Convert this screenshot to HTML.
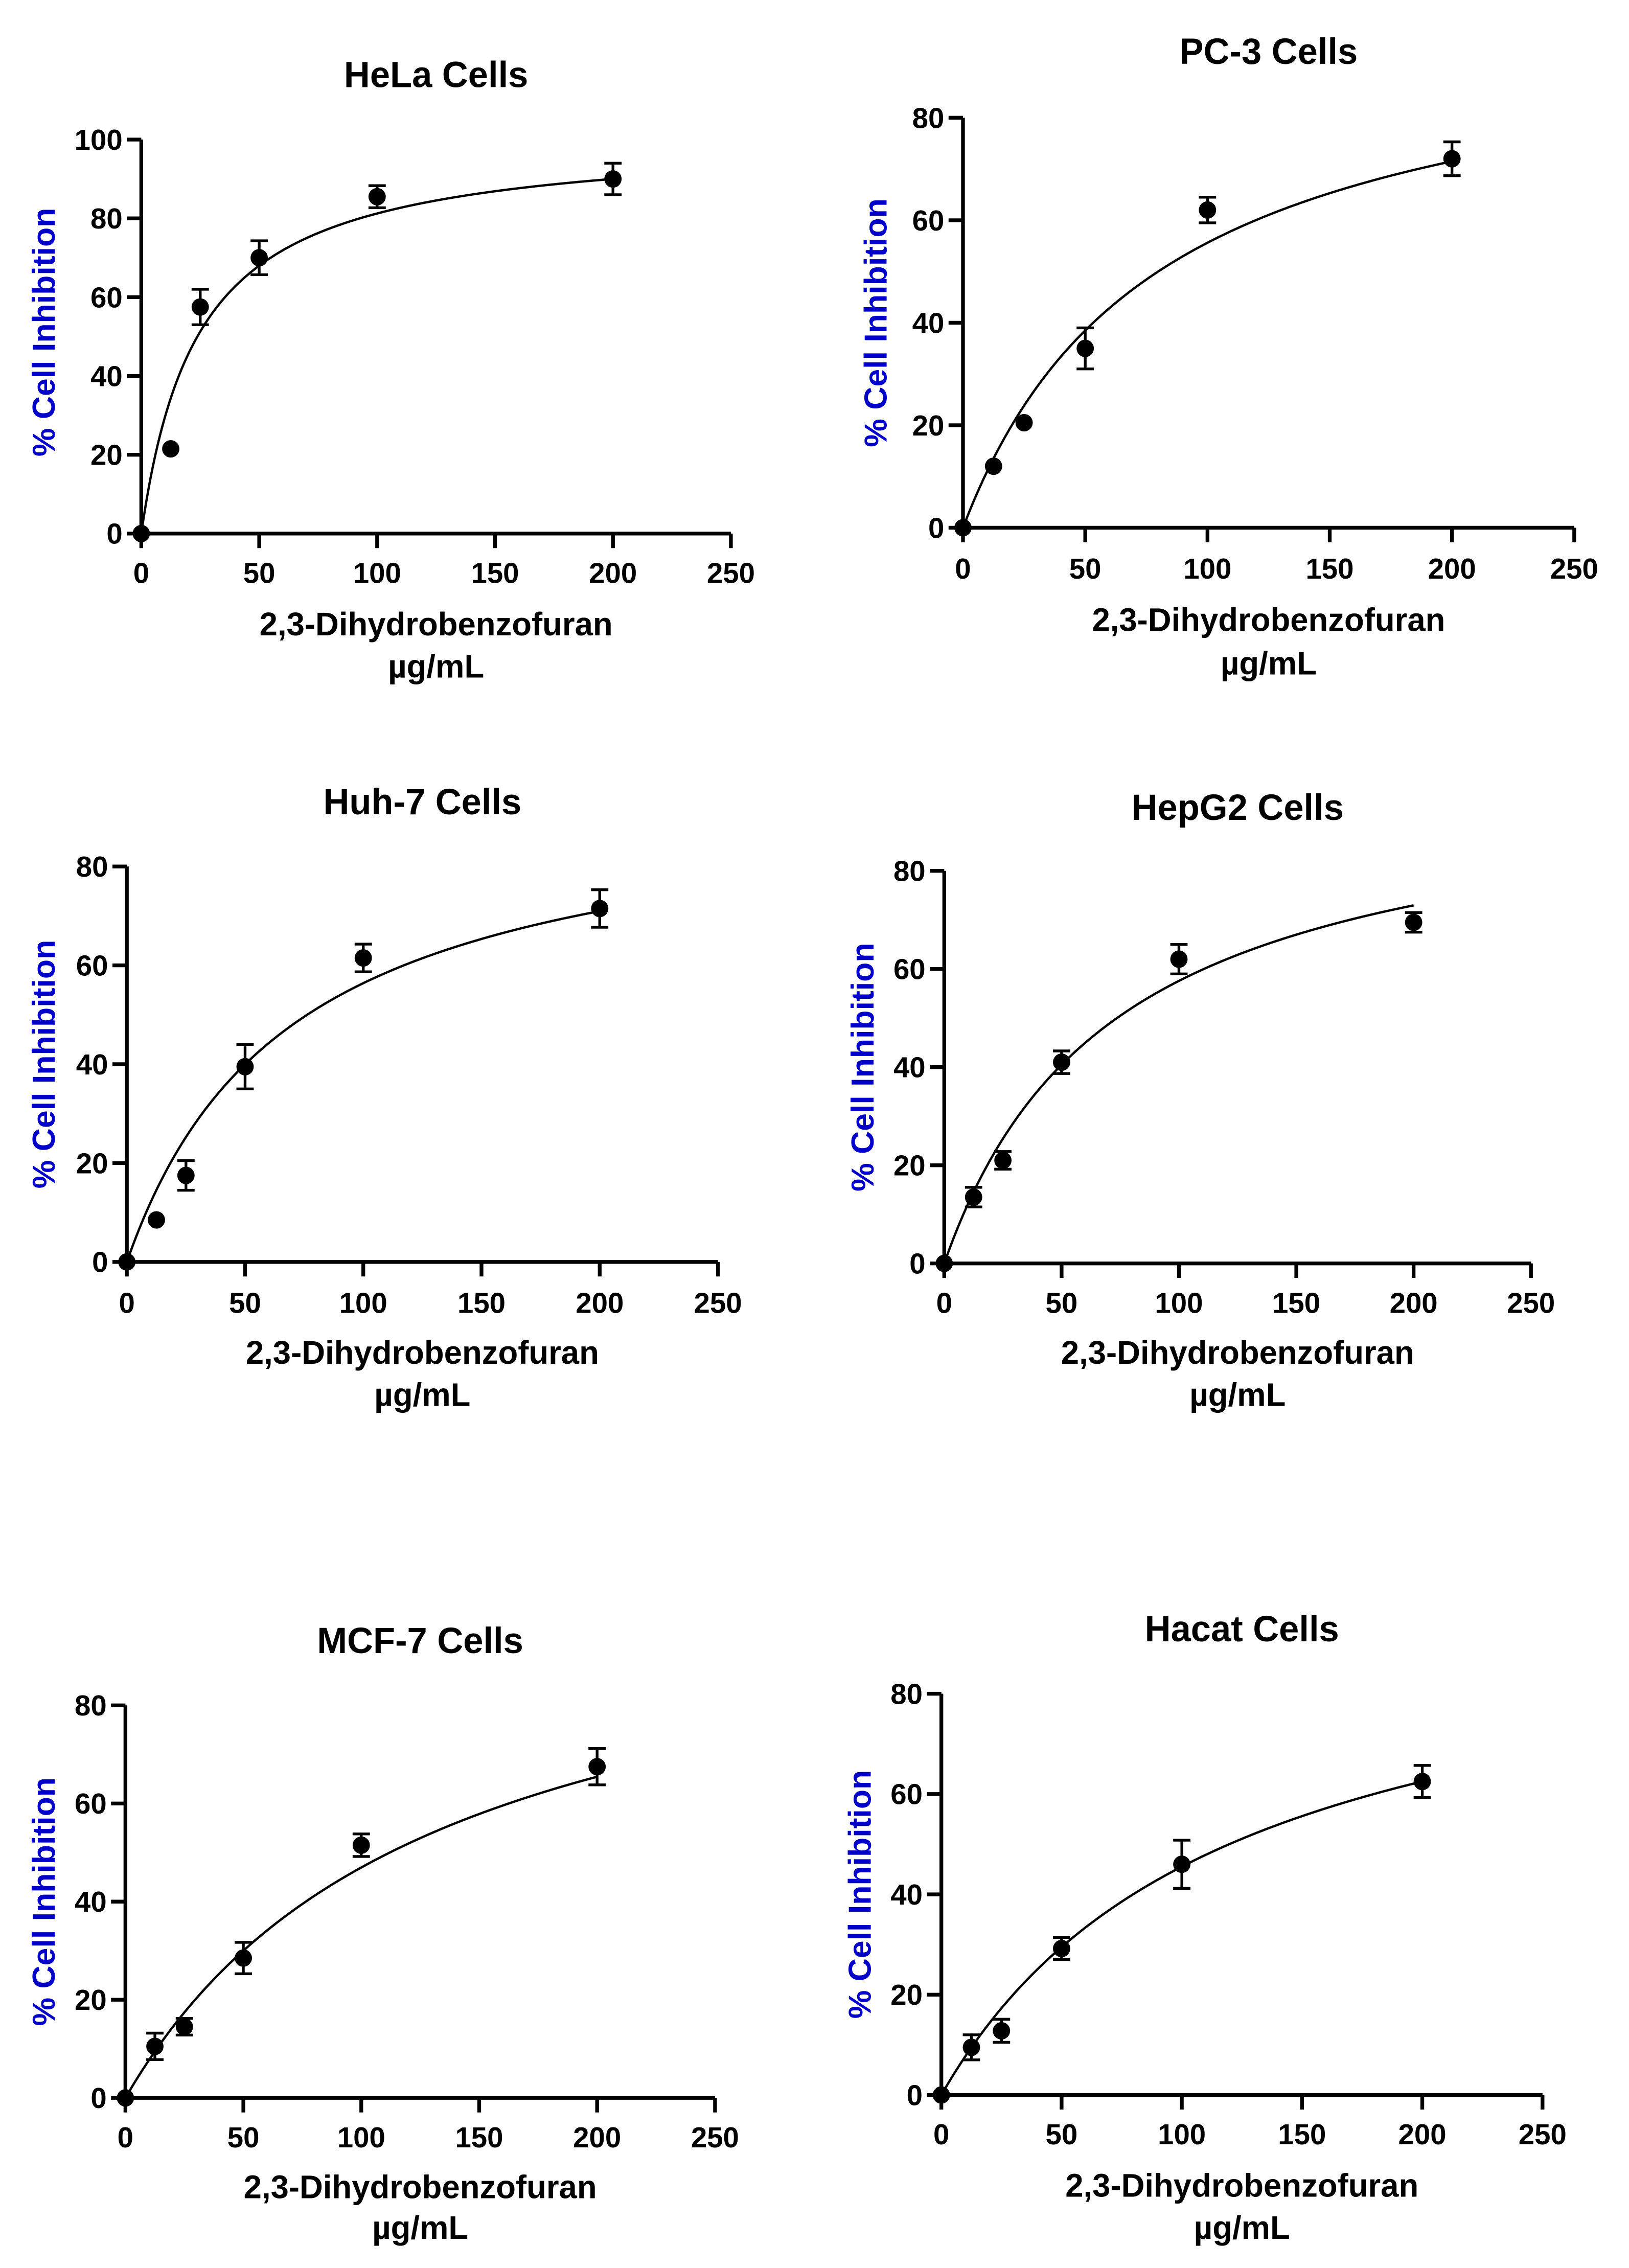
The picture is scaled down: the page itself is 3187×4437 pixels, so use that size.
<!DOCTYPE html>
<html><head><meta charset="utf-8"><style>
html,body{margin:0;padding:0;background:#fff;}
svg{display:block;}
text{font-family:"Liberation Sans",Arial,sans-serif;font-weight:bold;}
</style></head><body>
<svg id="fig" width="3187" height="4437" viewBox="0 0 1130 1560" preserveAspectRatio="none" xmlns="http://www.w3.org/2000/svg"></svg>
<script>
const xTicks=[0,50,100,150,200,250];
const doses=[0,12.5,25,50,100,200];
const helaVals=[0,21.5,57.5,70,85.5,90];
const helaErr=[0,0,4.5,4.3,2.8,4];
const pc3Vals=[0,12,20.5,35,62,72];
const pc3Err=[0,0,0,4,2.5,3.3];
const huhVals=[0,8.5,17.5,39.5,61.5,71.5];
const huhErr=[0,0,3,4.5,2.8,3.8];
const hepVals=[0,13.5,21,41,62,69.5];
const hepErr=[0,2,1.8,2.3,3,2];
const mcfVals=[0,10.5,14.5,28.5,51.5,67.5];
const mcfErr=[0,2.7,1.7,3.2,2.3,3.7];
const hacVals=[0,9.5,12.8,29.2,46,62.5];
const hacErr=[0,2.5,2.3,2.2,4.8,3.2];
const fitB=[100.9,100.1,95.7,99.6,108,99.7];
const fitK=[24.2,80,69.7,73,130,119];

const panels=[
 {name:'hela',title:'HeLa Cells',vals:helaVals,err:helaErr,ymax:100,yt:[0,20,40,60,80,100],x0:98,x1:507,y0:367,y1:96,ty:51,tk:394,a1:429,a2:458,lx:30},
 {name:'pc3',title:'PC-3 Cells',vals:pc3Vals,err:pc3Err,ymax:80,yt:[0,20,40,60,80],x0:668,x1:1092,y0:363,y1:81,ty:35,tk:391,a1:426,a2:456,lx:607},
 {name:'huh7',title:'Huh-7 Cells',vals:huhVals,err:huhErr,ymax:80,yt:[0,20,40,60,80],x0:88,x1:498,y0:868,y1:596,ty:551,tk:896,a1:930,a2:959,lx:30},
 {name:'hepg2',title:'HepG2 Cells',vals:hepVals,err:hepErr,ymax:80,yt:[0,20,40,60,80],x0:655,x1:1062,y0:869,y1:599,ty:555,tk:896,a1:930,a2:959,lx:598},
 {name:'mcf7',title:'MCF-7 Cells',vals:mcfVals,err:mcfErr,ymax:80,yt:[0,20,40,60,80],x0:87,x1:496,y0:1443,y1:1173,ty:1128,tk:1470,a1:1504,a2:1532,lx:30},
 {name:'hacat',title:'Hacat Cells',vals:hacVals,err:hacErr,ymax:80,yt:[0,20,40,60,80],x0:653,x1:1070,y0:1441,y1:1165,ty:1120,tk:1468,a1:1503,a2:1532,lx:596}
];
const NS='http://www.w3.org/2000/svg';
const svg=document.getElementById('fig');
function mk(tag,attrs,parent){const e=document.createElementNS(NS,tag);for(const k in attrs)e.setAttribute(k,attrs[k]);parent.appendChild(e);return e;}
panels.forEach((p,pi)=>{
 const g=mk('g',{},svg);
 
 
 const sx=v=>p.x0+(p.x1-p.x0)*v/250;
 const sy=v=>p.y0-(p.y0-p.y1)*v/p.ymax;
 const t=mk('text',{x:(p.x0+p.x1)/2,y:p.ty+9,'text-anchor':'middle','font-size':25,fill:'#000'},g);t.textContent=p.title;
 
 
 const ax=mk('path',{d:`M${p.x0},${p.y1}V${p.y0}H${p.x1}`,stroke:'#000','stroke-width':2.6,fill:'none'},g);
 
 
 p.yt.forEach(v=>{
  mk('line',{x1:p.x0-10,x2:p.x0,y1:sy(v),y2:sy(v),stroke:'#000','stroke-width':2.6},g);
  const l=mk('text',{x:p.x0-13,y:sy(v)+7,'text-anchor':'end','font-size':20},g);l.textContent=v;
  
  
 });
 xTicks.forEach(v=>{
  mk('line',{x1:sx(v),x2:sx(v),y1:p.y0,y2:p.y0+10,stroke:'#000','stroke-width':2.6},g);
  const l=mk('text',{x:sx(v),y:p.tk+7,'text-anchor':'middle','font-size':20},g);l.textContent=v;
  
  
 });
 const a1=mk('text',{x:(p.x0+p.x1)/2,y:p.a1+8,'text-anchor':'middle','font-size':22.5},g);a1.textContent='2,3-Dihydrobenzofuran';
 
 
 const a2=mk('text',{x:(p.x0+p.x1)/2,y:p.a2+8,'text-anchor':'middle','font-size':22.5},g);a2.textContent='µg/mL';
 
 
 const ym=(p.y0+p.y1)/2+ (p.ymax==100?-3:0);
 const yl=mk('text',{x:0,y:0,'text-anchor':'middle','font-size':22,fill:'#0000c8',transform:`translate(${p.lx+8},${ym}) rotate(-90)`},g);yl.textContent='% Cell Inhibition';
 
 
 let d='';
 for(let i=0;i<=200;i++){const x=i;const y=fitB[pi]*x/(fitK[pi]+x);d+=(i?'L':'M')+sx(x).toFixed(2)+','+sy(y).toFixed(2);}
 const c=mk('path',{d:d,stroke:'#000','stroke-width':1.6,fill:'none'},g);
 
 
 doses.forEach((x,i)=>{
  const v=p.vals[i],e=p.err[i];
  if(e>0){
   mk('path',{d:`M${sx(x)},${sy(v+e)}V${sy(v-e)}M${sx(x)-6},${sy(v+e)}h12M${sx(x)-6},${sy(v-e)}h12`,stroke:'#000','stroke-width':1.9,fill:'none'},g);
  }
  const pt=mk('circle',{cx:sx(x),cy:sy(v),r:6,fill:'#000'},g);
  
  
 });
});
</script>
</body></html>
